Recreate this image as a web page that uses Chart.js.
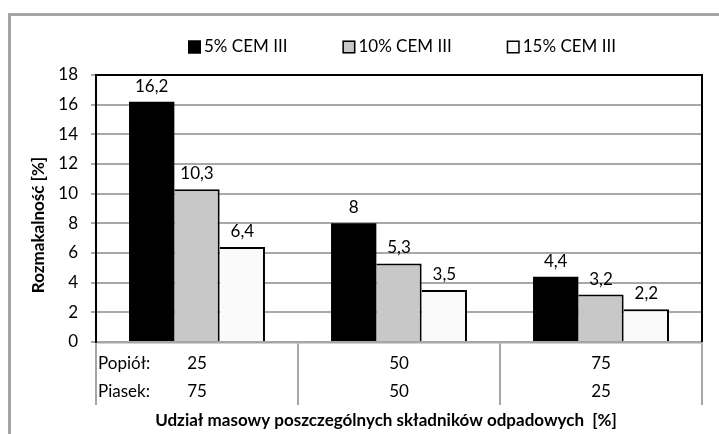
<!DOCTYPE html>
<html><head><meta charset="utf-8">
<script src="https://cdn.jsdelivr.net/npm/chart.js@4"></script>
<style>html,body{margin:0;padding:0;background:#fff;overflow:hidden}</style>
</head><body>
<canvas id="c" width="719" height="434"></canvas>
<script>
// ---- data ----
const categories = ['25/75', '50/50', '75/25'];
const popiol = ['25', '50', '75'];
const piasek = ['75', '50', '25'];
const rowLabels = ['Popiół:', 'Piasek:'];
const seriesNames = ['5% CEM III', '10% CEM III', '15% CEM III'];
const cem5 = [16.2, 8, 4.4];
const cem10 = [10.3, 5.3, 3.2];
const cem15 = [6.4, 3.5, 2.2];
const yMin = 0, yMax = 18, yStep = 2;
const yTitle = 'Rozmakalność [%]';
const xTitle = 'Udział masowy poszczególnych składników odpadowych  [%]';

const FONT = 'Lato, "DejaVu Sans", sans-serif';
const FS = 17;
const fmt = v => String(v).replace('.', ',');

const deco = {
  id: 'deco',
  beforeDraw(chart) {
    const ctx = chart.ctx;
    ctx.save();
    ctx.fillStyle = '#fff';
    ctx.fillRect(0, 0, chart.width, chart.height);
    ctx.strokeStyle = '#a5a5a5';
    ctx.lineWidth = 3;
    ctx.strokeRect(9.5, 14.5, chart.width + 40, chart.height + 40);
    ctx.restore();
  },
  afterDatasetsDraw(chart) {
    const ctx = chart.ctx, a = chart.chartArea;
    ctx.save();
    // value labels
    ctx.fillStyle = '#000';
    ctx.font = FS + 'px ' + FONT;
    ctx.textAlign = 'center';
    ctx.textBaseline = 'alphabetic';
    chart.data.datasets.forEach((ds, di) => {
      chart.getDatasetMeta(di).data.forEach((el, i) => {
        ctx.fillText(fmt(ds.data[i]), el.x, el.y - 10);
      });
    });
    // plot frame top / right
    ctx.strokeStyle = '#000';
    ctx.lineWidth = 2;
    ctx.beginPath();
    ctx.moveTo(a.left, a.top);
    ctx.lineTo(a.right, a.top);
    ctx.lineTo(a.right, a.bottom);
    ctx.stroke();
    ctx.restore();
  },
  afterDraw(chart) {
    const ctx = chart.ctx, a = chart.chartArea;
    ctx.save();
    ctx.fillStyle = '#000';
    // legend
    ctx.font = FS + 'px ' + FONT;
    const box = 13, gapTxt = 3, gapItem = 55;
    const widths = chart.data.datasets.map(d => ctx.measureText(d.label).width);
    const total = widths.reduce((s, w) => s + box + gapTxt + w, 0) + gapItem * (widths.length - 1);
    let x = (a.left + a.right) / 2 + 3 - total / 2;
    const ly = 47;
    chart.data.datasets.forEach((d, i) => {
      ctx.fillStyle = d.backgroundColor;
      ctx.fillRect(x, ly - box / 2, box, box);
      ctx.strokeStyle = '#000';
      ctx.lineWidth = 1.5;
      ctx.strokeRect(x + 0.75, ly - box / 2 + 0.75, box - 1.5, box - 1.5);
      ctx.fillStyle = '#000';
      ctx.textAlign = 'left';
      ctx.textBaseline = 'middle';
      ctx.fillText(d.label, x + box + gapTxt, ly);
      x += box + gapTxt + widths[i] + gapItem;
    });
    // row labels under the axis
    ctx.textAlign = 'left';
    ctx.textBaseline = 'middle';
    ctx.fillText(rowLabels[0], a.left + 2, a.bottom + 22);
    ctx.fillText(rowLabels[1], a.left + 2, a.bottom + 50);
    // axis titles
    ctx.font = 'bold ' + FS + 'px ' + FONT;
    ctx.textAlign = 'center';
    ctx.fillText(xTitle, 386, 421);
    ctx.translate(39, 225);
    ctx.rotate(-Math.PI / 2);
    ctx.fillText(yTitle, 0, 0);
    ctx.restore();
  }
};

const BW = {top: 2, right: 2, left: 0, bottom: 0};
new Chart(document.getElementById('c'), {
  type: 'bar',
  data: {
    labels: categories,
    datasets: [
      {label: seriesNames[0], data: cem5, backgroundColor: '#000000', borderColor: '#000', borderWidth: 0},
      {label: seriesNames[1], data: cem10, backgroundColor: '#c8c8c8', borderColor: '#000', borderWidth: BW},
      {label: seriesNames[2], data: cem15, backgroundColor: '#fafafa', borderColor: '#000', borderWidth: BW}
    ]
  },
  options: {
    responsive: false,
    devicePixelRatio: 1,
    animation: false,
    categoryPercentage: 0.673,
    barPercentage: 1.0,
    layout: {padding: {top: 75, left: 0, right: 17, bottom: 0}},
    plugins: {legend: {display: false}, tooltip: {enabled: false}},
    scales: {
      x: {
        grid: {display: true, drawOnChartArea: false, drawTicks: true, tickLength: 63, color: '#a6a6a6', lineWidth: 2, offset: true},
        border: {display: true, color: '#a6a6a6', width: 2.5},
        ticks: {
          callback: (v, i) => [popiol[i], piasek[i]],
          font: {family: FONT, size: FS, lineHeight: 28 / FS},
          color: '#000', padding: -55, maxRotation: 0, autoSkip: false
        },
        afterFit(s) { s.height = 92; }
      },
      y: {
        min: yMin, max: yMax,
        ticks: {stepSize: yStep, font: {family: FONT, size: FS}, color: '#000', padding: 13},
        grid: {color: '#a8a8a8', lineWidth: 2, tickLength: 5, drawTicks: true},
        border: {color: '#000', width: 2},
        afterFit(s) { s.width = 96; }
      }
    }
  },
  plugins: [deco]
});
</script>
</body></html>
